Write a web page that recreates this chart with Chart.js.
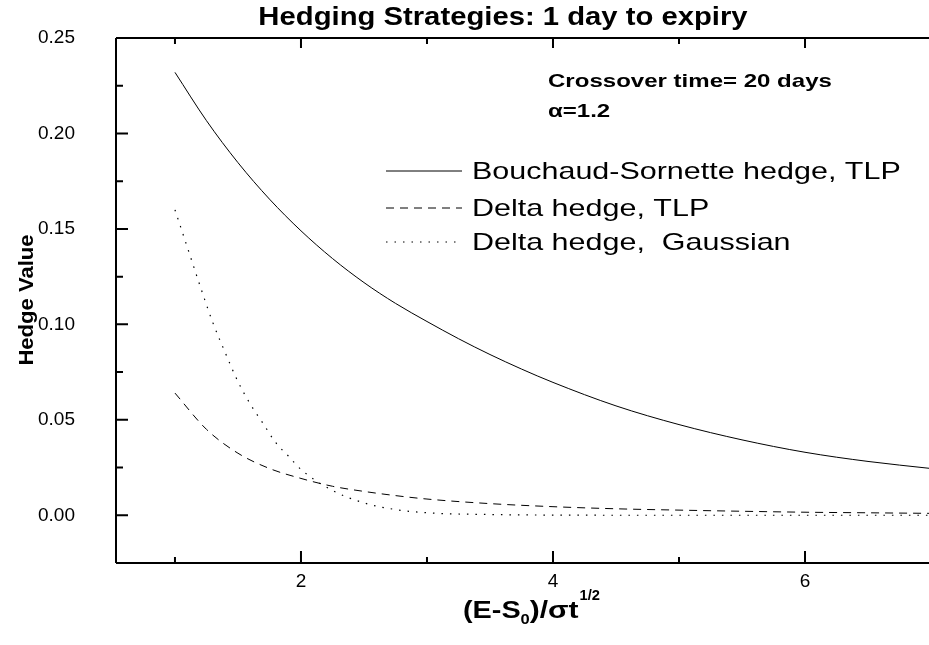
<!DOCTYPE html>
<html>
<head>
<meta charset="utf-8">
<title>Hedging Strategies</title>
<script src="https://cdn.jsdelivr.net/npm/chart.js@4.4.1/dist/chart.umd.min.js"></script>
<style>
  body { margin: 0; background: #fff; }
  #wrap { width: 929px; height: 645px; position: relative; }
</style>
</head>
<body>
<div id="wrap"><canvas id="hedgeChart"></canvas></div>
<script>
// Bouchaud-Sornette hedge, TLP
const bsX = [1, 1.25, 1.5, 1.75, 2, 2.25, 2.5, 2.75, 3, 3.25, 3.5, 3.75, 4, 4.5, 5, 5.5, 6, 6.5, 7];
const bsY = [0.232, 0.2067, 0.1847, 0.1656, 0.149, 0.1345, 0.1219, 0.1110, 0.1015, 0.0925, 0.0842, 0.0766, 0.0696, 0.0573, 0.0475, 0.0395, 0.0330, 0.0282, 0.0245];

// Delta hedge, TLP
const tlpX = [1, 1.25, 1.5, 1.75, 2, 2.25, 2.5, 2.75, 3, 3.5, 4, 4.5, 5, 5.5, 6, 6.5, 7];
const tlpY = [0.064, 0.045, 0.0325, 0.0245, 0.0193, 0.0152, 0.0125, 0.0103, 0.0085, 0.0061, 0.0045, 0.0034, 0.0027, 0.0021, 0.0016, 0.0013, 0.0010];

// Delta hedge, Gaussian
const gaussX = [1, 1.1, 1.2, 1.3, 1.4, 1.5, 1.6, 1.7, 1.8, 1.9, 2, 2.25, 2.5, 2.75, 3, 3.5, 4, 5, 6, 7];
const gaussY = [0.160, 0.140, 0.120, 0.101, 0.085, 0.070, 0.058, 0.048, 0.038, 0.031, 0.024, 0.013, 0.0065, 0.003, 0.0013, 0.0004, 0.0001, 0, 0, 0];

const seriesNames = ['Bouchaud-Sornette hedge, TLP', 'Delta hedge, TLP', 'Delta hedge,  Gaussian'];
const seriesDash = [[], [8, 6], [1.5, 7]];

const xMin = 0.532, xMax = 6.984;
const yMin = -0.025, yMax = 0.25;

function pts(xs, ys) {
    return xs.map((x, i) => ({ x: x, y: ys[i] }));
}

// text helper, the original fonts run a bit wider than Arial
function wideText(ctx, text, x, y, font, sx, align) {
    ctx.save();
    ctx.font = font;
    ctx.textAlign = align || 'left';
    ctx.textBaseline = 'middle';
    ctx.translate(x, y);
    ctx.scale(sx, 1);
    ctx.fillText(text, 0, 0);
    const w = ctx.measureText(text).width * sx;
    ctx.restore();
    return w;
}

const framePlugin = {
    id: 'frame',
    afterDraw(chart) {
        const ctx = chart.ctx;
        const a = chart.chartArea;
        const xs = chart.scales.x, ys = chart.scales.y;
        ctx.save();
        ctx.fillStyle = '#000';
        ctx.strokeStyle = '#000';
        ctx.lineWidth = 2;
        ctx.setLineDash([]);

        // axis lines (left, bottom, top)
        ctx.beginPath();
        ctx.moveTo(a.left, a.top); ctx.lineTo(a.left, a.bottom);
        ctx.moveTo(a.left, a.bottom); ctx.lineTo(a.right, a.bottom);
        ctx.moveTo(a.left, a.top); ctx.lineTo(a.right, a.top);
        ctx.stroke();

        // inward tick marks
        ctx.beginPath();
        ys.ticks.forEach(t => {
            const py = ys.getPixelForValue(t.value);
            const major = Math.round(t.value * 1000) % 50 === 0;
            ctx.moveTo(a.left, py);
            ctx.lineTo(a.left + (major ? 12 : 7), py);
        });
        xs.ticks.forEach(t => {
            const px = xs.getPixelForValue(t.value);
            const major = t.value % 2 === 0;
            ctx.moveTo(px, a.bottom);
            ctx.lineTo(px, a.bottom - (major ? 12 : 6));
            ctx.moveTo(px, a.top);
            ctx.lineTo(px, a.top + (major ? 10 : 6));
        });
        ctx.stroke();

        // title
        wideText(ctx, 'Hedging Strategies: 1 day to expiry', 503, 18, 'bold 25px Arial', 1.17, 'center');

        // notes
        wideText(ctx, 'Crossover time= 20 days', 548, 82, 'bold 19px Arial', 1.265);
        wideText(ctx, '\u03b1=1.2', 548, 112, 'bold 19px Arial', 1.265);

        // legend
        const rows = [171, 208, 242];
        ctx.lineWidth = 1;
        rows.forEach((ry, i) => {
            ctx.setLineDash(seriesDash[i]);
            ctx.beginPath();
            ctx.moveTo(386, ry);
            ctx.lineTo(462, ry);
            ctx.stroke();
            ctx.setLineDash([]);
            wideText(ctx, seriesNames[i], 472, ry + 1, '24px Arial', 1.27);
        });

        // y axis title
        ctx.save();
        ctx.translate(27, 300);
        ctx.rotate(-Math.PI / 2);
        wideText(ctx, 'Hedge Value', 0, 0, 'bold 21px Arial', 1.05, 'center');
        ctx.restore();

        // x axis title (E-S0)/σt^(1/2)
        let x0 = 463;
        const by = 611;
        x0 += wideText(ctx, '(E-S', x0, by, 'bold 24px Arial', 1.2);
        x0 += wideText(ctx, '0', x0, by + 9, 'bold 15px Arial', 1.1);
        x0 += wideText(ctx, ')/\u03c3t', x0, by, 'bold 24px Arial', 1.25);
        wideText(ctx, '1/2', x0 + 1, by - 15, 'bold 14px Arial', 1.05);

        ctx.restore();
    }
};

const hedgeCtx = document.getElementById('hedgeChart').getContext('2d');
new Chart(hedgeCtx, {
    type: 'line',
    data: {
        datasets: [
            {
                label: seriesNames[0],
                data: pts(bsX, bsY),
                borderColor: '#000',
                borderWidth: 1,
                borderDash: seriesDash[0],
                pointRadius: 0,
                cubicInterpolationMode: 'monotone',
                fill: false
            },
            {
                label: seriesNames[1],
                data: pts(tlpX, tlpY),
                borderColor: '#000',
                borderWidth: 1,
                borderDash: seriesDash[1],
                pointRadius: 0,
                cubicInterpolationMode: 'monotone',
                fill: false
            },
            {
                label: seriesNames[2],
                data: pts(gaussX, gaussY),
                borderColor: '#000',
                borderWidth: 1.2,
                borderDash: seriesDash[2],
                pointRadius: 0,
                cubicInterpolationMode: 'monotone',
                fill: false
            }
        ]
    },
    options: {
        responsive: true,
        maintainAspectRatio: false,
        animation: false,
        layout: { padding: { top: 38, left: 0, right: 0, bottom: 0 } },
        plugins: {
            legend: { display: false },
            title: { display: false },
            tooltip: { enabled: false }
        },
        scales: {
            x: {
                type: 'linear',
                min: xMin,
                max: xMax,
                border: { display: false },
                grid: { display: false, drawTicks: false },
                ticks: {
                    stepSize: 1,
                    includeBounds: false,
                    padding: 7,
                    color: '#000',
                    font: { family: 'Arial', size: 19 },
                    maxRotation: 0,
                    callback: v => (v % 2 === 0 ? String(v) : '')
                },
                afterFit: s => { s.height = 82; }
            },
            y: {
                type: 'linear',
                min: yMin,
                max: yMax,
                border: { display: false },
                grid: { display: false, drawTicks: false },
                ticks: {
                    stepSize: 0.025,
                    maxTicksLimit: 20,
                    padding: 41,
                    color: '#000',
                    font: { family: 'Arial', size: 19 },
                    callback: v => (Math.round(v * 1000) % 50 === 0 ? v.toFixed(2) : '')
                },
                // the big label padding would otherwise push the plot top down
                afterFit: s => { s.width = 116; s.paddingTop = 0; s.paddingBottom = 0; }
            }
        }
    },
    plugins: [framePlugin]
});
</script>
</body>
</html>
